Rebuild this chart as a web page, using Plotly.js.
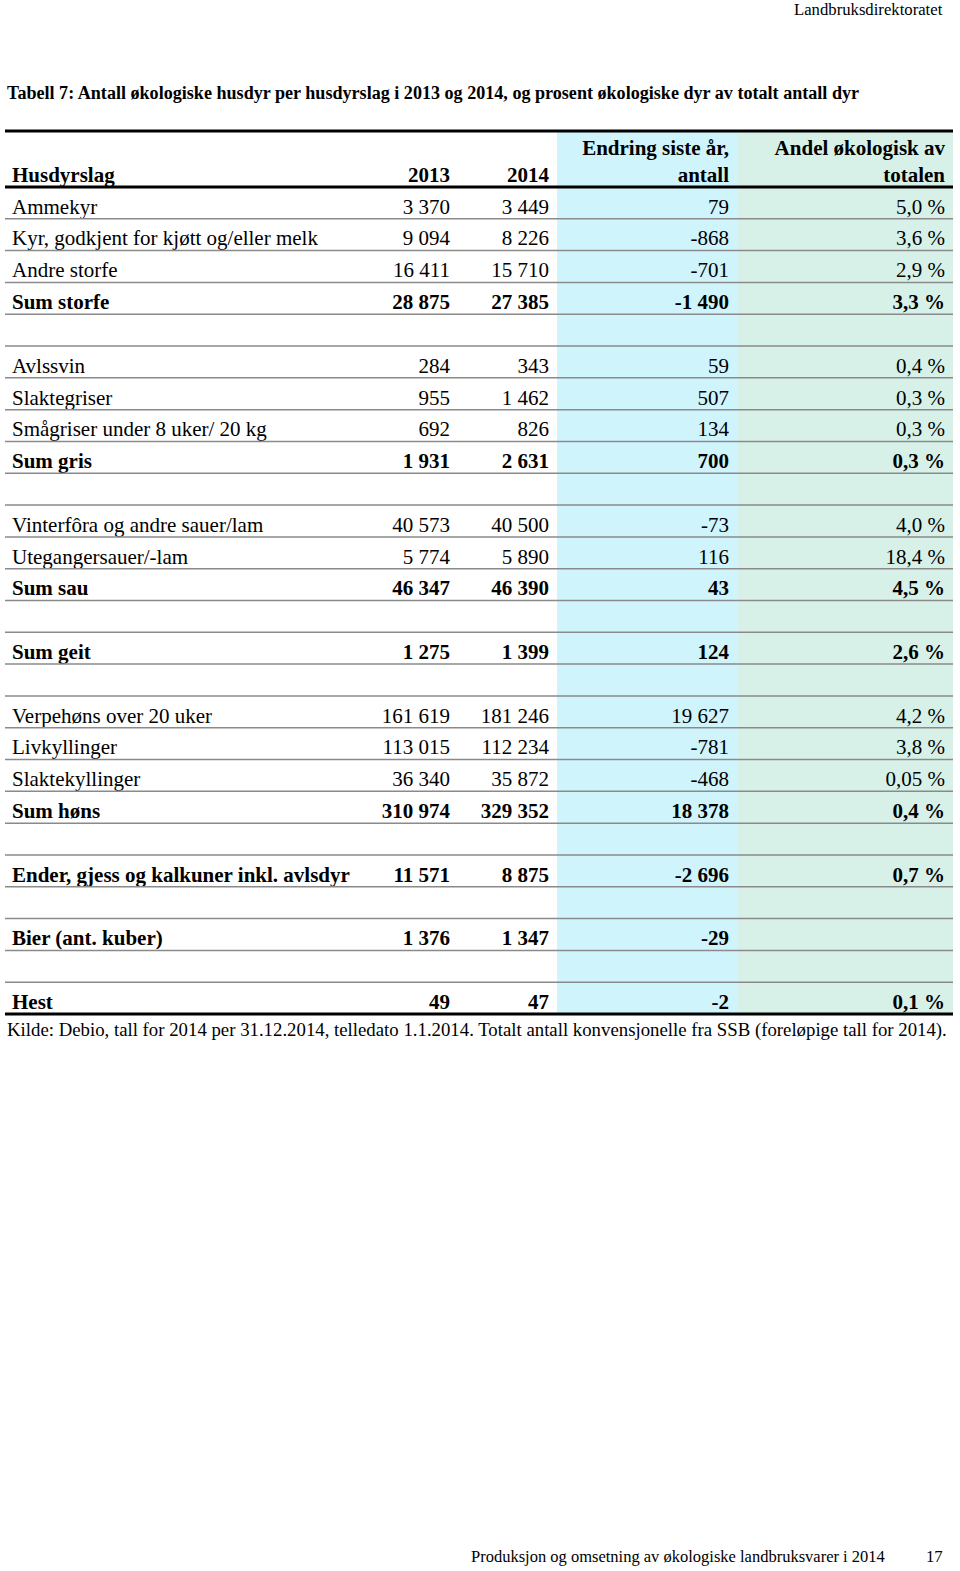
<!DOCTYPE html>
<html>
<head>
<meta charset="utf-8">
<script src="https://cdn.plot.ly/plotly-3.0.1.min.js"></script>
<style>html,body{margin:0;padding:0;background:#fff;}#chart{width:960px;height:1571px;}</style>
</head>
<body>
<div id="chart"></div>
<script>
// ---- Data ----
var categories = [
  "Ammekyr", "Kyr, godkjent for kjøtt og/eller melk", "Andre storfe", "Sum storfe", "",
  "Avlssvin", "Slaktegriser", "Smågriser under 8 uker/ 20 kg", "Sum gris", "",
  "Vinterfôra og andre sauer/lam", "Utegangersauer/-lam", "Sum sau", "",
  "Sum geit", "",
  "Verpehøns over 20 uker", "Livkyllinger", "Slaktekyllinger", "Sum høns", "",
  "Ender, gjess og kalkuner inkl. avlsdyr", "",
  "Bier (ant. kuber)", "",
  "Hest"
];
var values2013 = [3370, 9094, 16411, 28875, null,
  284, 955, 692, 1931, null,
  40573, 5774, 46347, null,
  1275, null,
  161619, 113015, 36340, 310974, null,
  11571, null,
  1376, null,
  49];
var values2014 = [3449, 8226, 15710, 27385, null,
  343, 1462, 826, 2631, null,
  40500, 5890, 46390, null,
  1399, null,
  181246, 112234, 35872, 329352, null,
  8875, null,
  1347, null,
  47];
var changeLastYear = [79, -868, -701, -1490, null,
  59, 507, 134, 700, null,
  -73, 116, 43, null,
  124, null,
  19627, -781, -468, 18378, null,
  -2696, null,
  -29, null,
  -2];
var shareOfTotal = ["5,0 %", "3,6 %", "2,9 %", "3,3 %", "",
  "0,4 %", "0,3 %", "0,3 %", "0,3 %", "",
  "4,0 %", "18,4 %", "4,5 %", "",
  "2,6 %", "",
  "4,2 %", "3,8 %", "0,05 %", "0,4 %", "",
  "0,7 %", "",
  "", "",
  "0,1 %"];
var boldRow = [0,0,0,1,0, 0,0,0,1,0, 0,0,1,0, 1,0, 0,0,0,1,0, 1,0, 1,0, 1];
var headers = ["Husdyrslag", "2013", "2014", "Endring siste år,<br>antall", "Andel økologisk av<br>totalen"];

// ---- Formatting ----
function fmt(n) {
  if (n === null) return "";
  var s = String(Math.abs(n)).replace(/\B(?=(\d{3})+(?!\d))/g, " ");
  return (n < 0 ? "-" : "") + s;
}
function b(arr) { return arr.map(function (t, i) { return boldRow[i] && t !== "" ? "<b>" + t + "</b>" : t; }); }

var columns = [
  b(categories),
  b(values2013.map(fmt)),
  b(values2014.map(fmt)),
  b(changeLastYear.map(fmt)),
  b(shareOfTotal)
];

// ---- Layout constants (pixels) ----
var W = 960, H = 1571;
var tableLeft = 5, tableRight = 953, tableTop = 131, headerBottom = 187, tableBottom = 1014;
var nRows = categories.length;
var rowH = (tableBottom - headerBottom) / nRows;
function pxToRow(p) { return (p - headerBottom) / rowH - 0.5; }
var textShift = 5.5 / rowH;                    // visual baseline offset inside a row
var colX = [12, 450, 549, 729, 945];          // text anchor per column
var colPos = ["middle right", "middle left", "middle left", "middle left", "middle left"];
var fillBands = [[557, 738, "#d0f4fc"], [738, 953, "#d7f1e8"]];
var FONT = "Liberation Serif";
var fs = 21;

var rowIdx = categories.map(function (_, i) { return i; });
var traces = [];
columns.forEach(function (col, c) {
  traces.push({
    type: "scatter", mode: "text",
    x: rowIdx.map(function () { return colX[c]; }),
    y: rowIdx.map(function (i) { return i + textShift; }),
    text: col,
    textposition: colPos[c],
    textfont: { family: FONT, size: fs, color: "#000" },
    hoverinfo: "skip", showlegend: false, cliponaxis: false
  });
  var twoLine = headers[c].indexOf("<br>") >= 0;
  traces.push({
    type: "scatter", mode: "text",
    x: [colX[c]],
    y: [pxToRow(twoLine ? 163.5 : 177)],
    text: ["<b>" + headers[c] + "</b>"],
    textposition: colPos[c],
    textfont: { family: FONT, size: fs, color: "#000" },
    hoverinfo: "skip", showlegend: false, cliponaxis: false
  });
});

var shapes = [];
fillBands.forEach(function (bd) {
  shapes.push({ type: "rect", xref: "x", yref: "y", layer: "below",
    x0: bd[0], x1: bd[1], y0: pxToRow(tableTop), y1: nRows - 0.5,
    fillcolor: bd[2], line: { width: 0 } });
});
function hline(yVal, color, width) {
  shapes.push({ type: "line", xref: "x", yref: "y",
    x0: tableLeft, x1: tableRight, y0: yVal, y1: yVal,
    line: { color: color, width: width } });
}
for (var i = 0; i < nRows - 1; i++) hline(i + 0.5, "#8a8a8a", 1.5);
hline(pxToRow(tableTop), "#000", 3);
hline(-0.5, "#000", 3);
hline(nRows - 0.5, "#000", 3);

var annotations = [
  { text: "Landbruksdirektoratet", x: 945 / W, y: 1 - 9 / H, xanchor: "right", yanchor: "middle",
    font: { family: FONT, size: 16.7, color: "#000" } },
  { text: "<b>Tabell 7: Antall økologiske husdyr per husdyrslag i 2013 og 2014, og prosent økologiske dyr av totalt antall dyr</b>",
    x: 5 / W, y: 1 - 93 / H, xanchor: "left", yanchor: "middle",
    font: { family: FONT, size: 18.1, color: "#000" } },
  { text: "Kilde: Debio, tall for 2014 per 31.12.2014, telledato 1.1.2014. Totalt antall konvensjonelle fra SSB (foreløpige tall for 2014).",
    x: 5 / W, y: 1 - 1030 / H, xanchor: "left", yanchor: "middle",
    font: { family: FONT, size: 18.8, color: "#000" } },
  { text: "Produksjon og omsetning av økologiske landbruksvarer i 2014", x: 887 / W, y: 1 - 1556 / H,
    xanchor: "right", yanchor: "middle", font: { family: FONT, size: 16.5, color: "#000" } },
  { text: "17", x: 945 / W, y: 1 - 1556 / H, xanchor: "right", yanchor: "middle",
    font: { family: FONT, size: 16.7, color: "#000" } }
].map(function (a) { a.xref = "paper"; a.yref = "paper"; a.showarrow = false; return a; });

Plotly.newPlot("chart", traces, {
  width: W, height: H,
  margin: { l: 0, r: 0, t: 0, b: 0, pad: 0 },
  paper_bgcolor: "#fff", plot_bgcolor: "#fff",
  xaxis: { range: [0, W], visible: false, fixedrange: true },
  yaxis: { range: [pxToRow(H), pxToRow(0)], visible: false, fixedrange: true },
  shapes: shapes,
  annotations: annotations
}, { staticPlot: true });
</script>
</body>
</html>
